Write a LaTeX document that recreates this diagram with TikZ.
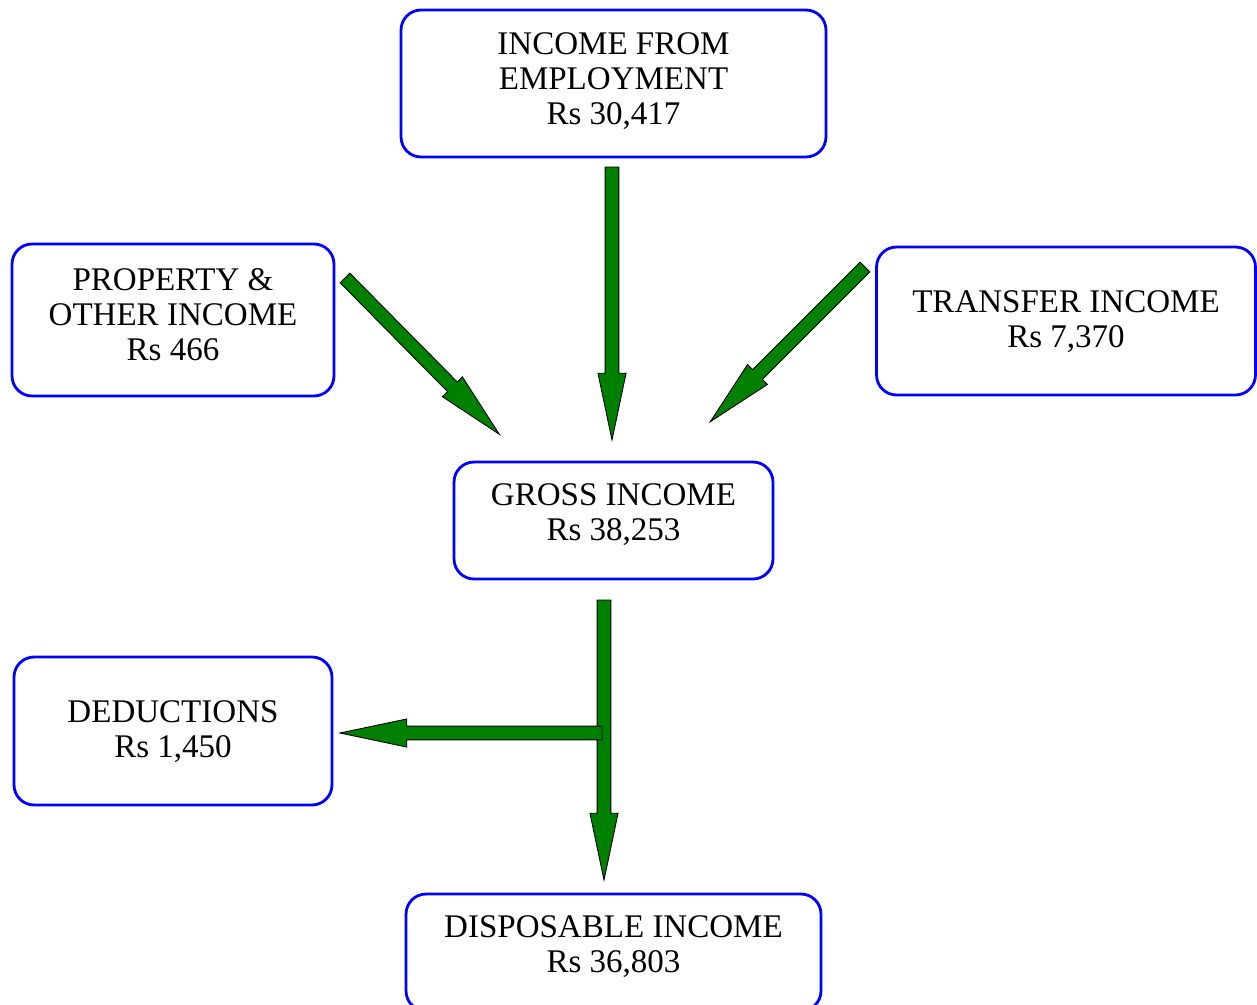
\documentclass[tikz,border=0pt]{standalone}
\usepackage{fontspec}
\setmainfont{Liberation Serif}
\usetikzlibrary{calc}
\tikzset{
	box/.style={draw=blue, line width=1.6pt, rounded corners=0.4cm, align=center,
		inner sep=0pt, text depth=10pt, font=\fontsize{18.8}{20}\selectfont},
	fat/.style={draw=black, line width=0.5pt, fill=green!50!black, line join=miter},
}
\newcommand{\fatarrow}[2]{%
	\path[fat] let \p1=($(#2)-(#1)$), \n1={veclen(\x1,\y1)}, \n2={atan2(\y1,\x1)} in
		[shift={(#1)}, rotate=\n2]
		(0pt,-3.9pt) -- (\n1-38pt,-3.9pt) -- (\n1-38pt,-8pt) -- (\n1,0pt)
		-- (\n1-38pt,8pt) -- (\n1-38pt,3.9pt) -- (0pt,3.9pt) -- cycle;
}
\begin{document}
\begin{tikzpicture}[x=0.02cm, y=-0.02cm]
	\useasboundingbox (0,0) rectangle (1257,1004);
	\clip (0,0) rectangle (1257,1004);

	\node[box, text depth=5.5pt, minimum width=8.5cm, minimum height=2.94cm] (emp) at (613.5,83.5)
		{INCOME FROM\\EMPLOYMENT\\Rs 30,417};
	\node[box, text depth=6pt, minimum width=6.44cm, minimum height=3.04cm] (prop) at (173,320)
		{PROPERTY \&\\OTHER INCOME\\Rs 466};
	\node[box, text depth=2pt, minimum width=7.58cm, minimum height=2.96cm] (tran) at (1066,321)
		{TRANSFER INCOME\\Rs 7,370};
	\node[box, minimum width=6.38cm, minimum height=2.34cm] (gross) at (613.5,520.5)
		{GROSS INCOME\\Rs 38,253};
	\node[box, text depth=2.5pt, minimum width=6.36cm, minimum height=2.96cm] (ded) at (173,731)
		{DEDUCTIONS\\Rs 1,450};
	\node[box, minimum width=8.3cm, minimum height=2.34cm] (disp) at (613.5,952.5)
		{DISPOSABLE INCOME\\Rs 36,803};

	% arrow ends
	\coordinate (empA) at (612,167);
	\coordinate (empB) at (612,440);
	\coordinate (propA) at (345,278);
	\coordinate (propB) at (500,435);
	\coordinate (tranA) at (865,267);
	\coordinate (tranB) at (710,422);
	\coordinate (grossA) at (604,600);
	\coordinate (dispB) at (604,880);
	\coordinate (split) at (602,733);
	\coordinate (dedB) at (340,733);

	\fatarrow{empA}{empB}
	\fatarrow{propA}{propB}
	\fatarrow{tranA}{tranB}
	\fatarrow{grossA}{dispB}
	\fatarrow{split}{dedB}
\end{tikzpicture}
\end{document}
